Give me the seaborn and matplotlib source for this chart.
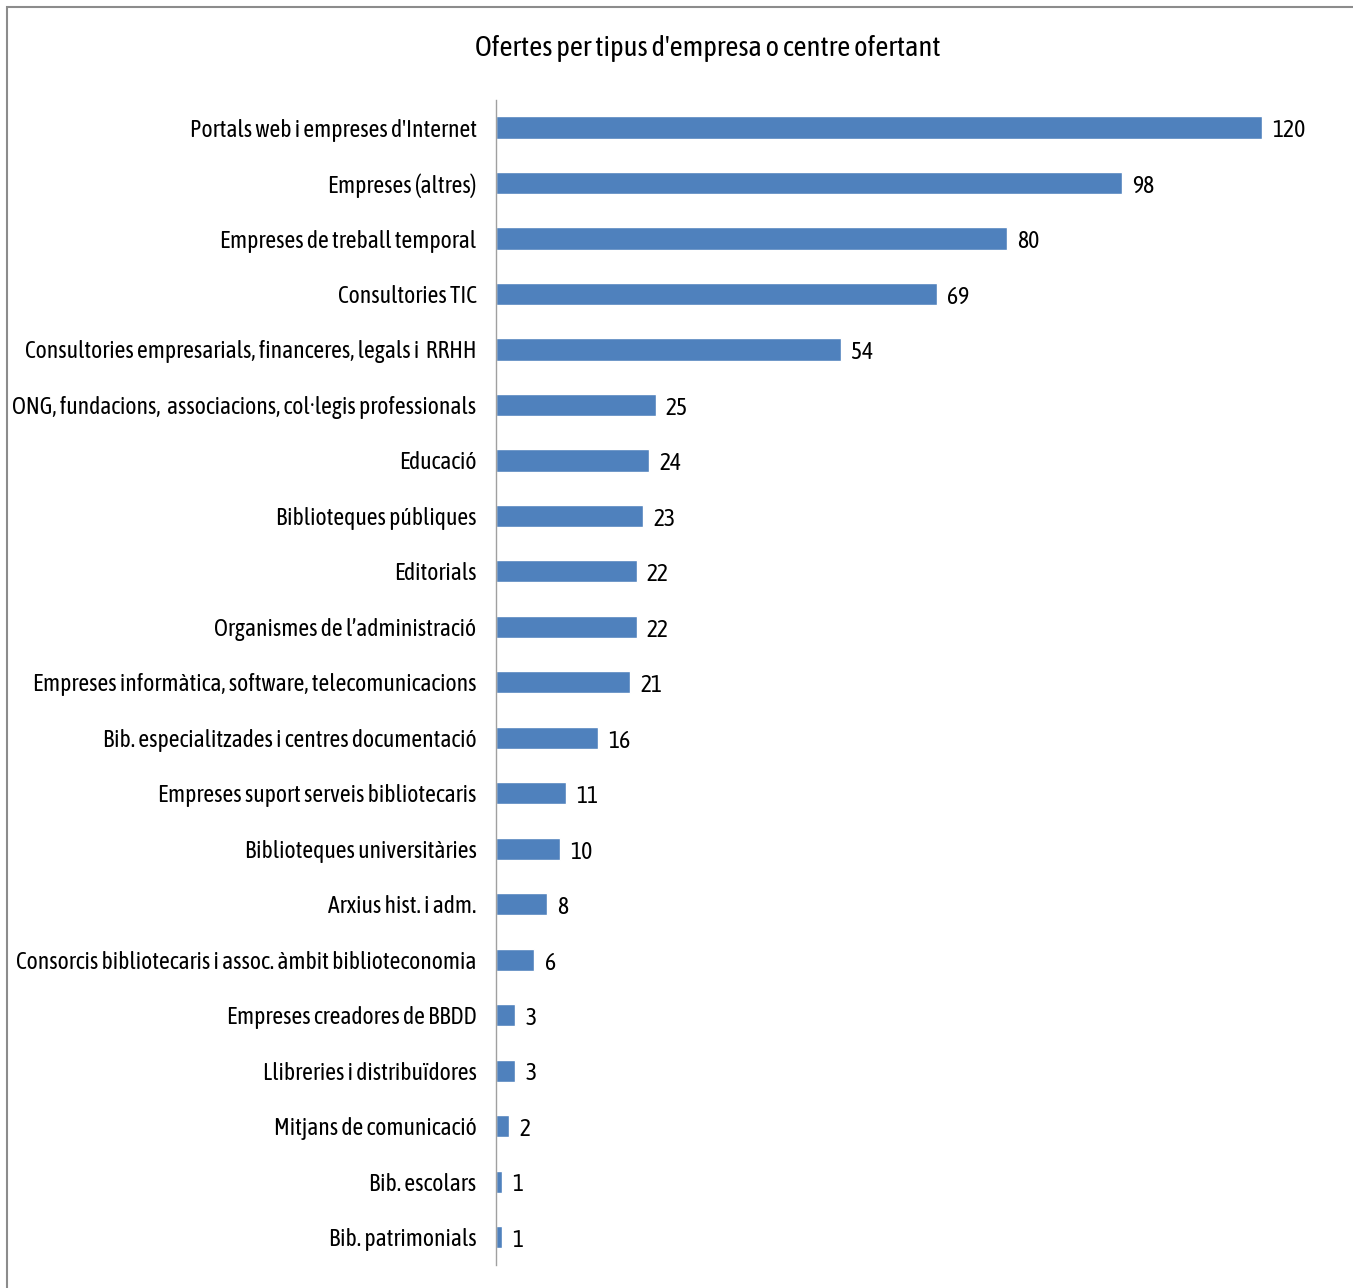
import numpy as np
import pandas as pd
import seaborn as sns
import matplotlib.pyplot as plt
from matplotlib.patches import Rectangle

categories = [
    "Portals web i empreses d'Internet",
    "Empreses (altres)",
    "Empreses de treball temporal",
    "Consultories TIC",
    "Consultories empresarials, financeres, legals i  RRHH",
    "ONG, fundacions,  associacions, col·legis professionals",
    "Educació",
    "Biblioteques públiques",
    "Editorials",
    "Organismes de l\u2019administració",
    "Empreses informàtica, software, telecomunicacions",
    "Bib. especialitzades i centres documentació",
    "Empreses suport serveis bibliotecaris",
    "Biblioteques universitàries",
    "Arxius hist. i adm.",
    "Consorcis bibliotecaris i assoc. àmbit biblioteconomia",
    "Empreses creadores de BBDD",
    "Llibreries i distribuïdores",
    "Mitjans de comunicació",
    "Bib. escolars",
    "Bib. patrimonials",
]
ofertes = [120, 98, 80, 69, 54, 25, 24, 23, 22, 22, 21, 16, 11, 10, 8, 6, 3, 3, 2, 1, 1]

df = pd.DataFrame({"categoria": categories, "ofertes": ofertes})

sns.set_style("white")
plt.rcParams['font.family'] = ['Asap Condensed', 'DejaVu Sans']

fig = plt.figure(figsize=(13.53, 12.88), dpi=100)
ax = fig.add_axes([0.3666, 0.018, 0.625, 0.9045])

sns.barplot(data=df, x="ofertes", y="categoria", color="#4f81bd",
            saturation=1, width=0.4, ax=ax)

ax.set_xlim(0, 132.4)
ax.set_ylim(20.5, -0.5)
ax.set_xlabel("")
ax.set_ylabel("")
ax.set_xticks([])
for s in ["top", "right", "bottom"]:
    ax.spines[s].set_visible(False)
ax.spines["left"].set_color("#a0a0a0")
ax.spines["left"].set_linewidth(1)
ax.tick_params(axis="y", length=0, pad=14, labelsize=17, labelcolor="black")

# value labels at the end of each bar
for i, v in enumerate(ofertes):
    ax.text(v + 1.6, i + 0.06, str(v), va="center", ha="left", fontsize=17, color="black")

fig.text(0.523, 0.962, "Ofertes per tipus d'empresa o centre ofertant",
         ha="center", va="center", fontsize=20.5, color="black")

# grey frame around the chart
fig.patches.append(Rectangle((0.005, -0.01), 1.1, 1.0045, transform=fig.transFigure,
                             fill=False, edgecolor="#8c8c8c", linewidth=1.5))

plt.savefig("out.png", dpi=100)
